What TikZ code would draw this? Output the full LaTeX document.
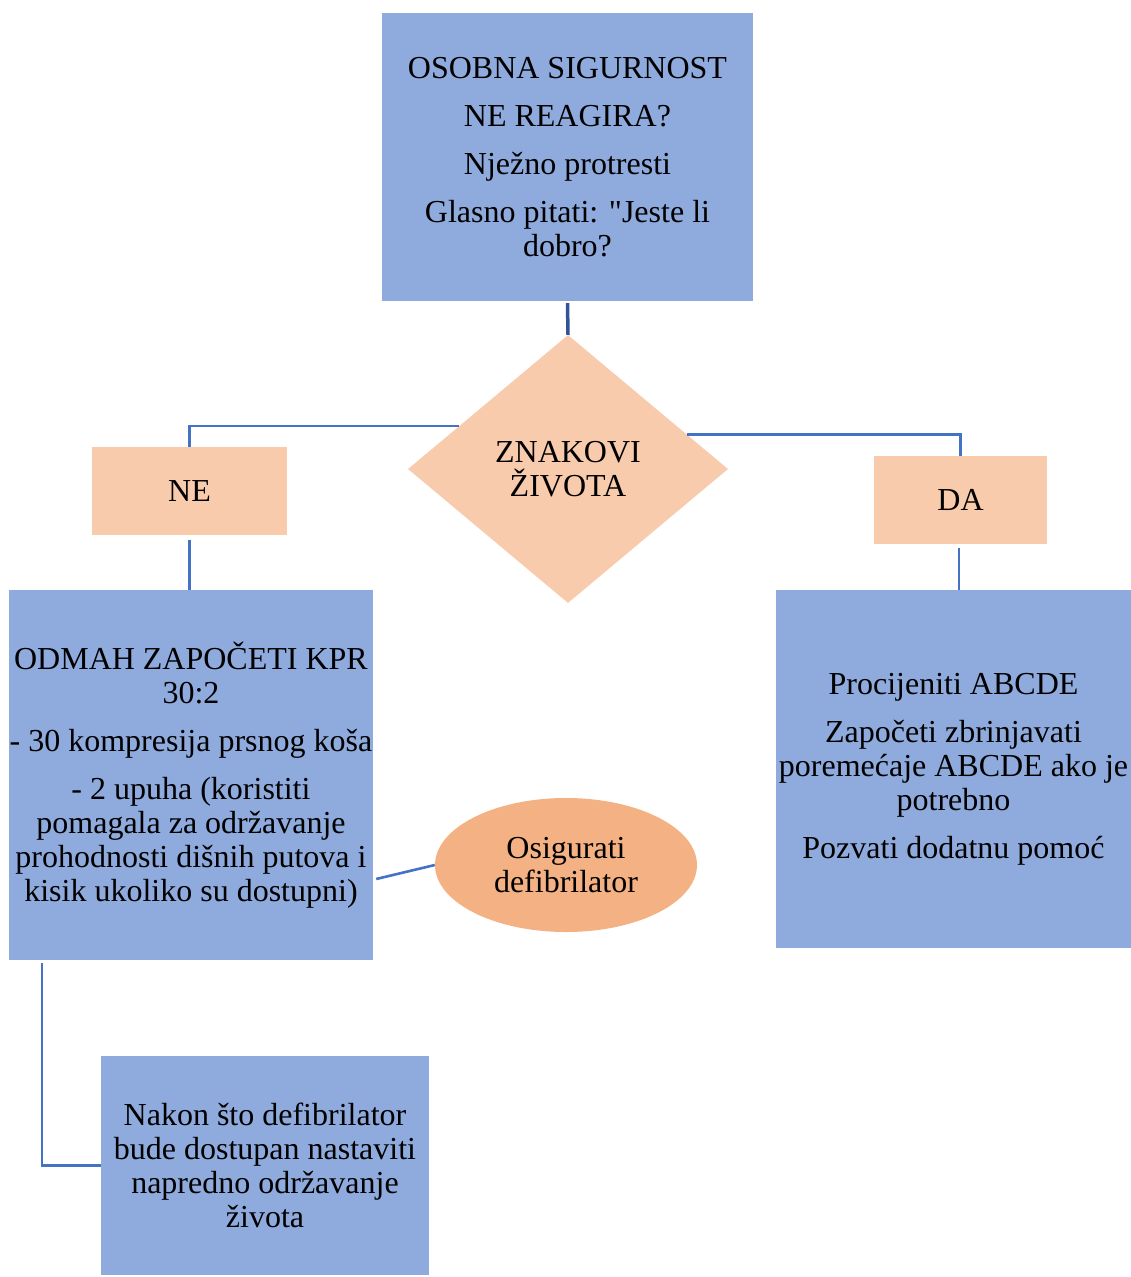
\documentclass[tikz,border=0pt]{standalone}
\usepackage{fontspec}
\setmainfont{Liberation Serif}[Ligatures=TeXOff]
\usetikzlibrary{shapes.geometric,calc}
\definecolor{boxblue}{HTML}{8FAADC}
\definecolor{peach}{HTML}{F8CBAD}
\definecolor{orangefill}{HTML}{F4B183}
\definecolor{linkblue}{HTML}{4472C4}
\definecolor{darklink}{HTML}{2F5597}
\begin{document}
\begin{tikzpicture}[x=1pt,y=-1pt,
  every node/.style={font=\fontsize{32}{34}\selectfont, align=center, inner sep=0pt, text=black},
  bluebox/.style={rectangle, fill=boxblue},
  peachbox/.style={rectangle, fill=peach},
  decision/.style={diamond, fill=peach, aspect=1},
  oval/.style={ellipse, fill=orangefill},
  link/.style={draw=linkblue, line width=2.6pt},
  darklinkst/.style={draw=darklink, line width=3.5pt}]
\useasboundingbox (0,0) rectangle (1131,1277);

\node[bluebox, minimum width=371pt, minimum height=288pt] (top) at (567.5,157)
  {OSOBNA SIGURNOST\\[14pt] NE REAGIRA?\\[14pt] Nježno protresti\\[14pt] Glasno pitati: "Jeste li\\ dobro?};
\node[decision, minimum width=320pt, minimum height=268pt] (dia) at (568,469)
  {ZNAKOVI\\ ŽIVOTA};
\node[peachbox, minimum width=195pt, minimum height=88pt] (ne) at (189.5,491) {NE};
\node[peachbox, minimum width=173pt, minimum height=88pt] (da) at (960.5,500) {DA};
\node[bluebox, minimum width=364pt, minimum height=370pt] (lbox) at (191,775)
  {ODMAH ZAPOČETI KPR\\ 30:2\\[14pt] - 30 kompresija prsnog koša\\[14pt] - 2 upuha (koristiti\\ pomagala za održavanje\\ prohodnosti dišnih putova i\\ kisik ukoliko su dostupni)};
\node[bluebox, minimum width=355pt, minimum height=358pt] (rbox) at (953.5,769)
  {Procijeniti ABCDE\\[14pt] Započeti zbrinjavati\\ poremećaje ABCDE ako je\\ potrebno\\[14pt] Pozvati dodatnu pomoć};
\node[oval, minimum width=262pt, minimum height=134pt] (ell) at (566,865)
  {Osigurati\\ defibrilator};
\node[bluebox, minimum width=328pt, minimum height=219pt] (bot) at (265,1165.5)
  {Nakon što defibrilator\\ bude dostupan nastaviti\\ napredno održavanje\\ života};

% connectors
\draw[darklinkst] ([yshift=-2pt]top.south) -- (dia.north);
\draw[link] ($(dia.west)!0.32!(dia.north)$) -| (ne.north);
\draw[link] ($(dia.east)!0.256!(dia.north)$) -| (da.north);
\draw[link] ([yshift=-5pt]ne.south) -- (ne.south |- lbox.north);
\draw[link] ([xshift=-1.5pt,yshift=-4pt]da.south) -- ([xshift=-1.5pt]da.south |- rbox.north);
\draw[link] (ell.west) -- ([xshift=3pt,yshift=-104pt]lbox.east);
\draw[link] ([xshift=33pt,yshift=-3pt]lbox.south west) |- (bot.west);
\end{tikzpicture}
\end{document}
